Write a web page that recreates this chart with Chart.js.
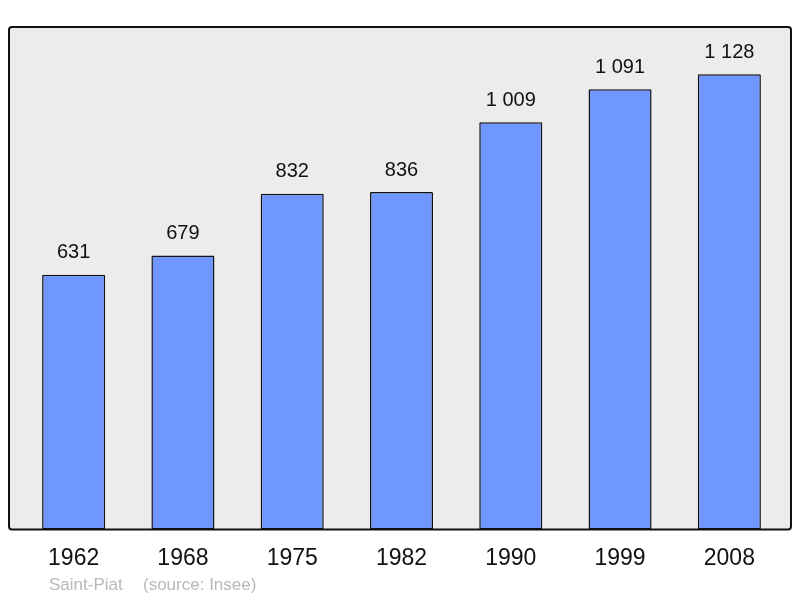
<!DOCTYPE html>
<html>
<head>
<meta charset="utf-8">
<script src="https://cdn.jsdelivr.net/npm/chart.js@4"></script>
<style>
    html, body { margin: 0; padding: 0; background: #fff; }
    #wrap { width: 800px; height: 598px; }
</style>
</head>
<body>
<div id="wrap"><canvas id="popChart" width="800" height="598"></canvas></div>
<script>
// Data
const years = ['1962', '1968', '1975', '1982', '1990', '1999', '2008'];
const population = [631, 679, 832, 836, 1009, 1091, 1128];
const townName = 'Saint-Piat';
const sourceText = '(source: Insee)';

const FONT = '"Liberation Sans", Arial, sans-serif';

// Format with a space as thousands separator
function formatValue(v) {
    return String(v).replace(/\B(?=(\d{3})+(?!\d))/g, ' ');
}

// Grey frame behind the bars
const framePlugin = {
    id: 'frame',
    beforeDraw(chart) {
        const { ctx, chartArea } = chart;
        const x = chartArea.left - 10;
        const y = chartArea.top;
        const w = chartArea.right + 7 - x;
        const h = chartArea.bottom - y;
        ctx.save();
        ctx.beginPath();
        ctx.roundRect(x, y, w, h, 3);
        ctx.fillStyle = '#ececec';
        ctx.fill();
        ctx.restore();
    },
    afterDatasetsDraw(chart) {
        const { ctx, chartArea } = chart;
        const x = chartArea.left - 10;
        const y = chartArea.top;
        const w = chartArea.right + 7 - x;
        const h = chartArea.bottom - y;
        ctx.save();
        ctx.beginPath();
        ctx.roundRect(x, y, w, h, 3);
        ctx.lineWidth = 2;
        ctx.strokeStyle = '#111';
        ctx.stroke();
        // source line
        ctx.font = '17px ' + FONT;
        ctx.fillStyle = '#b8b8b8';
        ctx.textBaseline = 'middle';
        ctx.fillText(townName, 49, 585);
        ctx.fillText(sourceText, 143, 585);
        ctx.restore();
    }
};

// Value labels above bars
const valueLabels = {
    id: 'valueLabels',
    afterDatasetsDraw(chart) {
        const { ctx } = chart;
        const meta = chart.getDatasetMeta(0);
        ctx.save();
        ctx.font = '20px ' + FONT;
        ctx.fillStyle = '#111';
        ctx.textAlign = 'center';
        ctx.textBaseline = 'middle';
        meta.data.forEach((bar, i) => {
            ctx.fillText(formatValue(population[i]), bar.x, bar.y - 22);
        });
        ctx.restore();
    }
};

new Chart(document.getElementById('popChart'), {
    type: 'bar',
    data: {
        labels: years,
        datasets: [{
            data: population,
            backgroundColor: '#6f97ff',
            borderColor: '#111',
            borderWidth: 1.5,
            borderSkipped: false,
            borderRadius: 1,
            categoryPercentage: 1,
            barPercentage: 0.577
        }]
    },
    options: {
        responsive: false,
        animation: false,
        layout: { padding: { left: 19, right: 16, top: 27, bottom: 11 } },
        plugins: {
            legend: { display: false },
            tooltip: { enabled: false }
        },
        scales: {
            x: {
                grid: { display: false, drawTicks: false },
                border: { display: false },
                ticks: {
                    color: '#111',
                    font: { family: FONT, size: 23 },
                    padding: 15,
                    maxRotation: 0
                }
            },
            y: {
                display: false,
                min: 0,
                max: 1245
            }
        }
    },
    plugins: [framePlugin, valueLabels]
});
</script>
</body>
</html>
